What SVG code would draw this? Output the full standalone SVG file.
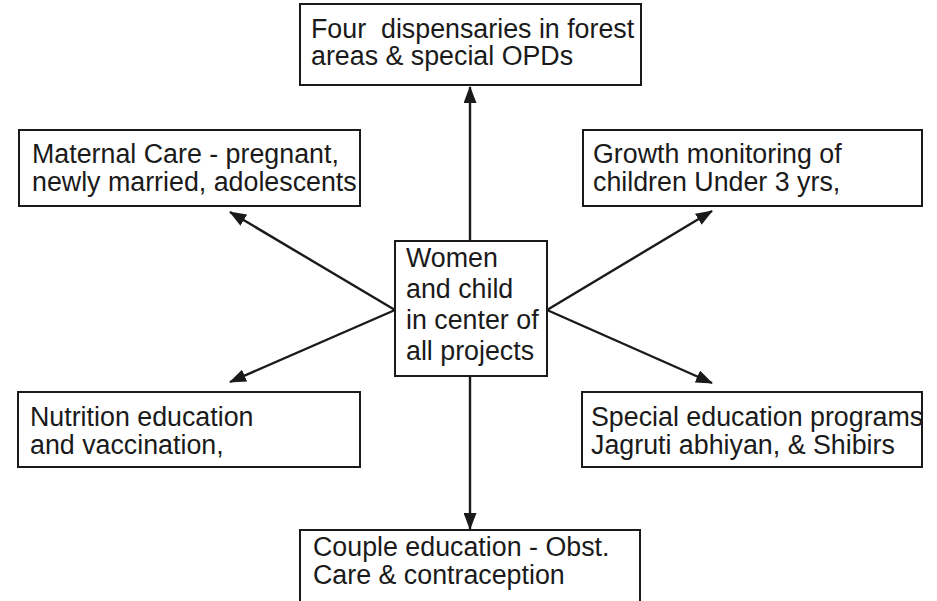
<svg xmlns="http://www.w3.org/2000/svg" width="937" height="601" viewBox="0 0 937 601">
<defs>
<marker id="ah" viewBox="0 0 17 13" refX="16" refY="6.5" markerWidth="17" markerHeight="13" markerUnits="userSpaceOnUse" orient="auto">
<path d="M0,0 L17,6.5 L0,13 Z" fill="#1a1a1a"/>
</marker>
</defs>
<style>
.box{fill:#fff;stroke:#1a1a1a;stroke-width:2}
.t{font-family:"Liberation Sans",Arial,sans-serif;font-size:26.8px;fill:#1a1a1a}
.c{stroke:#1a1a1a;stroke-width:2.4;fill:none;marker-end:url(#ah)}
</style>
<rect width="937" height="601" fill="#fff"/>
<g id="connectors">
<line class="c" x1="470" y1="241" x2="470" y2="87"/>
<line class="c" x1="470" y1="376" x2="470" y2="529"/>
<line class="c" x1="395" y1="310" x2="230" y2="212"/>
<line class="c" x1="395" y1="310" x2="230" y2="382"/>
<line class="c" x1="547" y1="310" x2="712" y2="211"/>
<line class="c" x1="547" y1="310" x2="712" y2="383"/>
</g>
<g id="center">
<rect class="box" x="395" y="241" width="152" height="135"/>
<text class="t" x="406" y="267">Women</text>
<text class="t" x="406" y="298">and child</text>
<text class="t" x="406" y="329">in center of</text>
<text class="t" x="406" y="360">all projects</text>
</g>
<g id="top">
<rect class="box" x="300" y="4" width="341" height="81"/>
<text class="t" x="311" y="38" xml:space="preserve">Four  dispensaries in forest</text>
<text class="t" x="311" y="65">areas &amp; special OPDs</text>
</g>
<g id="maternal">
<rect class="box" x="19" y="130" width="341" height="76"/>
<text class="t" x="32" y="163">Maternal Care - pregnant,</text>
<text class="t" x="32" y="191">newly married, adolescents</text>
</g>
<g id="growth">
<rect class="box" x="583" y="130" width="339" height="76"/>
<text class="t" x="593" y="163">Growth monitoring of</text>
<text class="t" x="593" y="191">children Under 3 yrs,</text>
</g>
<g id="nutrition">
<rect class="box" x="18" y="392" width="342" height="75"/>
<text class="t" x="30" y="426">Nutrition education</text>
<text class="t" x="30" y="454">and vaccination,</text>
</g>
<g id="special">
<rect class="box" x="582" y="392" width="340" height="75"/>
<text class="t" x="591" y="426">Special education programs</text>
<text class="t" x="591" y="454">Jagruti abhiyan, &amp; Shibirs</text>
</g>
<g id="bottom">
<rect class="box" x="300" y="530" width="340" height="90"/>
<text class="t" x="313" y="556">Couple education - Obst.</text>
<text class="t" x="313" y="584">Care &amp; contraception</text>
</g>
</svg>
